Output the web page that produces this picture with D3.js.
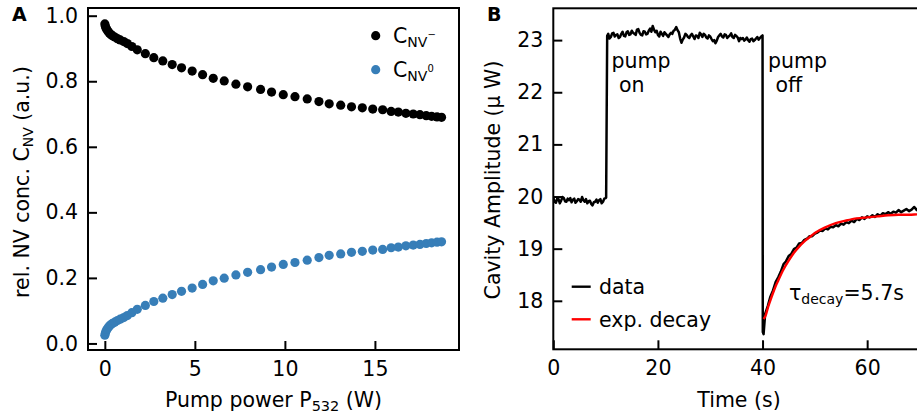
<!DOCTYPE html>
<meta charset="utf-8">
<style type="text/css">
    body{
        margin: 0;
        background: white;
    }
    svg{
        display: block;
    }
    text{
        font-family: "DejaVu Sans";
        fill: black;
    }
</style>
<body>
<script src="https://cdn.jsdelivr.net/npm/d3@7"></script>
<script>

// ---- panel A : relative NV concentrations vs pump power ----
var pumpPowerW = [0, 0.03, 0.07, 0.12, 0.18, 0.25, 0.33, 0.42, 0.55, 0.7, 0.85, 1.05, 1.25, 1.5, 1.8,
  2.25, 2.72, 3.22, 3.74, 4.26, 4.85, 5.43, 6.02, 6.63, 7.28, 7.93, 8.65, 9.26, 9.91, 10.56,
  11.24, 11.89, 12.46, 13.1, 13.7, 14.3, 14.88, 15.43, 15.9, 16.3, 16.72, 17.13, 17.5, 17.85,
  18.15, 18.45, 18.7];
var concNVminus = [0.975, 0.968, 0.962, 0.957, 0.952, 0.947, 0.943, 0.939, 0.935, 0.930, 0.926,
  0.921, 0.915, 0.906, 0.896, 0.884, 0.872, 0.862, 0.851, 0.841, 0.831, 0.820, 0.809, 0.801,
  0.791, 0.783, 0.775, 0.767, 0.759, 0.753, 0.746, 0.738, 0.731, 0.727, 0.722, 0.719, 0.715,
  0.713, 0.708, 0.706, 0.702, 0.700, 0.698, 0.695, 0.693, 0.691, 0.690];
var concNV0 = [0.025, 0.032, 0.038, 0.043, 0.048, 0.053, 0.057, 0.061, 0.065, 0.070, 0.074,
  0.079, 0.085, 0.094, 0.104, 0.116, 0.128, 0.138, 0.149, 0.159, 0.169, 0.180, 0.191, 0.199,
  0.209, 0.217, 0.225, 0.233, 0.241, 0.247, 0.254, 0.262, 0.269, 0.273, 0.278, 0.281, 0.285,
  0.287, 0.292, 0.294, 0.298, 0.300, 0.302, 0.305, 0.307, 0.309, 0.310];
var ticksA_x = [0, 5, 10, 15];
var ticksA_y = [0.0, 0.2, 0.4, 0.6, 0.8, 1.0];

// ---- panel B : cavity amplitude trace ----
var timeS = [
  0, 0.25, 0.5, 0.75, 1, 1.25, 1.5, 1.75, 2, 2.25, 2.5, 2.75, 3, 3.25, 3.5, 3.75, 4, 4.25, 4.5, 4.75,
  5, 5.25, 5.5, 5.75, 6, 6.25, 6.5, 6.75, 7, 7.25, 7.5, 7.75, 8, 8.25, 8.5, 8.75, 9, 9.25, 9.5, 9.75, 10,
  10.1, 10.3,
  10.5, 10.75, 11, 11.25, 11.5, 11.75, 12, 12.25, 12.5, 12.75, 13, 13.25, 13.5, 13.75, 14, 14.25,
  14.5, 14.75, 15, 15.25, 15.5, 15.75, 16, 16.25, 16.5, 16.75, 17, 17.25, 17.5, 17.75, 18, 18.25,
  18.5, 18.75, 19, 19.25, 19.5, 19.75, 20, 20.25, 20.5, 20.75, 21, 21.25, 21.5, 21.75, 22, 22.25,
  22.5, 22.75, 23, 23.25, 23.5, 23.75, 24, 24.25, 24.5, 24.75, 25, 25.25, 25.5, 25.75, 26, 26.25,
  26.5, 26.75, 27, 27.25, 27.5, 27.75, 28, 28.25, 28.5, 28.75, 29, 29.25, 29.5, 29.75, 30, 30.25,
  30.5, 30.75, 31, 31.25, 31.5, 31.75, 32, 32.25, 32.5, 32.75, 33, 33.25, 33.5, 33.75, 34, 34.25,
  34.5, 34.75, 35, 35.25, 35.5, 35.75, 36, 36.25, 36.5, 36.75, 37, 37.25, 37.5, 37.75, 38, 38.25,
  38.5, 38.75, 39, 39.25, 39.5, 39.75, 40,
  40.05, 40.2, 40.5,
  41, 41.5, 42, 42.5, 43, 43.5, 44, 44.5, 45, 45.5, 46, 46.5, 47, 47.5, 48, 48.5, 49, 49.5, 50, 50.5,
  51, 51.5, 52, 52.5, 53, 53.5, 54, 54.5, 55, 55.5, 56, 56.5, 57, 57.5, 58, 58.5, 59, 59.5, 60, 60.5,
  61, 61.5, 62, 62.5, 63, 63.5, 64, 64.5, 65, 65.5, 66, 66.5, 67, 67.5, 68, 68.5, 69, 69.5, 70];
var cavityUW = [
  19.98, 19.90, 19.88, 19.96, 19.95, 19.87, 19.92, 19.99, 19.97, 19.91, 19.90, 19.96, 19.93, 19.97,
  19.89, 19.94, 19.96, 19.88, 19.91, 19.95, 19.94, 19.90, 19.99, 19.93, 19.90, 19.95, 19.87, 19.91,
  19.92, 19.86, 19.83, 19.89, 19.90, 19.94, 19.88, 19.93, 19.95, 19.87, 19.90, 19.96, 19.97,
  19.98, 23.08,
  23.12, 23.03, 23.06, 23.13, 23.14, 23.07, 23.10, 23.11, 23.04, 23.06, 23.12, 23.16, 23.08, 23.07,
  23.15, 23.17, 23.10, 23.11, 23.18, 23.14, 23.12, 23.10, 23.20, 23.21, 23.14, 23.10, 23.09, 23.17,
  23.16, 23.11, 23.12, 23.18, 23.22, 23.16, 23.27, 23.20, 23.15, 23.18, 23.10, 23.07, 23.16, 23.12,
  23.08, 23.15, 23.12, 23.09, 23.06, 23.11, 23.14, 23.12, 23.18, 23.20, 23.25, 23.19, 23.15, 23.03,
  22.95, 23.01, 23.05, 23.12, 23.10, 23.06, 23.04, 23.09, 23.12, 23.07, 23.02, 23.09, 23.08, 23.04,
  23.14, 23.11, 23.06, 23.12, 23.10, 23.05, 23.03, 23.09, 23.07, 23.02, 22.98, 23.00, 22.94, 22.99,
  23.06, 23.09, 23.12, 23.07, 23.05, 23.11, 23.10, 23.04, 23.07, 23.09, 23.13, 23.06, 23.04, 23.10,
  23.08, 23.05, 22.98, 23.04, 23.02, 23.04, 22.99, 23.01, 23.05, 23.00, 22.97, 23.02, 23.03, 22.98,
  23.00, 23.03, 23.06, 23.01, 23.04, 23.07, 23.09,
  17.40, 17.36, 17.75,
  17.90, 18.08, 18.20, 18.36, 18.45, 18.56, 18.70, 18.76, 18.86, 18.90,
  18.99, 19.02, 19.10, 19.11, 19.17, 19.19, 19.24, 19.24, 19.29, 19.31,
  19.35, 19.34, 19.39, 19.37, 19.42, 19.41, 19.45, 19.43, 19.48, 19.46,
  19.51, 19.49, 19.54, 19.51, 19.57, 19.55, 19.60, 19.57, 19.62, 19.60,
  19.64, 19.61, 19.66, 19.63, 19.68, 19.66, 19.70, 19.67, 19.71, 19.69,
  19.74, 19.70, 19.73, 19.76, 19.72, 19.75, 19.80, 19.74, 19.77];
var fitT = [40.2, 40.6, 41, 41.5, 42, 42.5, 43, 44, 45, 46, 47, 48, 49, 50, 52, 54, 56, 58, 60,
  62, 64, 66, 68, 70, 72];
var fitUW = [17.65, 17.72, 17.86, 18.01, 18.15, 18.28, 18.39, 18.60, 18.77, 18.92, 19.04, 19.14,
  19.22, 19.30, 19.41, 19.49, 19.54, 19.58, 19.60, 19.62, 19.64, 19.65, 19.65, 19.66, 19.66];
var ticksB_x = [0, 20, 40, 60];
var ticksB_y = [18, 19, 20, 21, 22, 23];

var blue = "#377eb8";
var fs = 20.5;

var svg = d3.select("body")
  .append("svg")
  .attr("width", 917)
  .attr("height", 418);

//frame boxes (B runs a little past the right edge of the picture)
var boxA = {left: 88, right: 459, top: 8, bottom: 350};
var boxB = {left: 553.3, right: 924.7, top: 8.3, bottom: 349.3};

var xA = d3.scaleLinear().domain([-0.935, 19.67]).range([boxA.left, boxA.right]);
var yA = d3.scaleLinear().domain([-0.02, 1.0235]).range([boxA.bottom, boxA.top]);

var xB = d3.scaleLinear().domain([0, 71]).range([boxB.left, boxB.right]);
var yB = d3.scaleLinear().domain([17.07, 23.61]).range([boxB.bottom, boxB.top]);

function styleAxis(g){
  g.select(".domain").remove();
  g.selectAll(".tick line").attr("stroke", "black").attr("stroke-width", 2);
  g.selectAll(".tick text").attr("font-size", fs).attr("font-family", "DejaVu Sans").attr("fill", "black");
}

// axes A (ticks point inward)
svg.append("g")
  .attr("transform", "translate(0," + boxA.bottom + ")")
  .call(d3.axisBottom(xA).tickValues(ticksA_x).tickFormat(d3.format("d")).tickSizeInner(-9).tickSizeOuter(0).tickPadding(11))
  .call(styleAxis);
svg.append("g")
  .attr("transform", "translate(" + boxA.left + ",0)")
  .call(d3.axisLeft(yA).tickValues(ticksA_y).tickFormat(d3.format(".1f")).tickSizeInner(-9).tickSizeOuter(0).tickPadding(10))
  .call(styleAxis);

// axes B
svg.append("g")
  .attr("transform", "translate(0," + boxB.bottom + ")")
  .call(d3.axisBottom(xB).tickValues(ticksB_x).tickFormat(d3.format("d")).tickSizeInner(-9).tickSizeOuter(0).tickPadding(11))
  .call(styleAxis);
svg.append("g")
  .attr("transform", "translate(" + boxB.left + ",0)")
  .call(d3.axisLeft(yB).tickValues(ticksB_y).tickFormat(d3.format("d")).tickSizeInner(-9).tickSizeOuter(0).tickPadding(10))
  .call(styleAxis);

// points of panel A
var ptsMinus = pumpPowerW.map(function(p, i){ return [p, concNVminus[i]]; });
var pts0 = pumpPowerW.map(function(p, i){ return [p, concNV0[i]]; });

svg.append("g").selectAll("circle")
  .data(ptsMinus).enter().append("circle")
  .attr("cx", function(d){ return xA(d[0]); })
  .attr("cy", function(d){ return yA(d[1]); })
  .attr("r", 4.6)
  .attr("fill", "black");

svg.append("g").selectAll("circle")
  .data(pts0).enter().append("circle")
  .attr("cx", function(d){ return xA(d[0]); })
  .attr("cy", function(d){ return yA(d[1]); })
  .attr("r", 4.6)
  .attr("fill", blue);

// trace of panel B, clipped to the frame
svg.append("clipPath").attr("id", "clipB")
  .append("rect")
  .attr("x", boxB.left).attr("y", boxB.top)
  .attr("width", boxB.right - boxB.left).attr("height", boxB.bottom - boxB.top);

var plotB = svg.append("g").attr("clip-path", "url(#clipB)");

var lineB = d3.line()
  .x(function(d){ return xB(d[0]); })
  .y(function(d){ return yB(d[1]); });

plotB.append("path")
  .datum(timeS.map(function(t, i){ return [t, cavityUW[i]]; }))
  .attr("d", lineB)
  .attr("fill", "none")
  .attr("stroke", "black")
  .attr("stroke-width", 2.5)
  .attr("stroke-linejoin", "round");

plotB.append("path")
  .datum(fitT.map(function(t, i){ return [t, fitUW[i]]; }))
  .attr("d", lineB.curve(d3.curveMonotoneX))
  .attr("fill", "none")
  .attr("stroke", "#ff0000")
  .attr("stroke-width", 2.4);

// frames
svg.append("rect")
  .attr("x", boxA.left).attr("y", boxA.top)
  .attr("width", boxA.right - boxA.left).attr("height", boxA.bottom - boxA.top)
  .attr("fill", "none").attr("stroke", "black").attr("stroke-width", 2);
svg.append("rect")
  .attr("x", boxB.left).attr("y", boxB.top)
  .attr("width", boxB.right - boxB.left).attr("height", boxB.bottom - boxB.top)
  .attr("fill", "none").attr("stroke", "black").attr("stroke-width", 2);

// panel letters
svg.append("text").attr("x", 12).attr("y", 21).attr("font-size", 19).attr("font-weight", "bold").text("A");
svg.append("text").attr("x", 487).attr("y", 21).attr("font-size", 19).attr("font-weight", "bold").text("B");

// axis labels
var xlabA = svg.append("text")
  .attr("x", (boxA.left + boxA.right) / 2).attr("y", 407)
  .attr("text-anchor", "middle").attr("font-size", fs);
xlabA.append("tspan").text("Pump power P");
xlabA.append("tspan").attr("dy", 4).attr("font-size", 14.5).text("532");
xlabA.append("tspan").attr("dy", -4).text(" (W)");

var ylabA = svg.append("text")
  .attr("transform", "translate(29,182) rotate(-90)")
  .attr("text-anchor", "middle").attr("font-size", fs);
ylabA.append("tspan").text("rel. NV conc. C");
ylabA.append("tspan").attr("dy", 4).attr("font-size", 14).text("NV");
ylabA.append("tspan").attr("dy", -4).text(" (a.u.)");

svg.append("text")
  .attr("x", 739).attr("y", 407)
  .attr("text-anchor", "middle").attr("font-size", fs)
  .text("Time (s)");

svg.append("text")
  .attr("transform", "translate(500,180) rotate(-90)")
  .attr("text-anchor", "middle").attr("font-size", fs)
  .text("Cavity Amplitude (\u03bc W)");

// legend A
var legA = [{label: "\u2212", color: "black", y: 35.7}, {label: "0", color: blue, y: 69.7}];
legA.forEach(function(l){
  svg.append("circle").attr("cx", 375.7).attr("cy", l.y).attr("r", 4.6).attr("fill", l.color);
  var t = svg.append("text").attr("x", 393).attr("y", l.y + 7.5).attr("font-size", fs);
  t.append("tspan").text("C");
  t.append("tspan").attr("dy", 4).attr("font-size", 14).text("NV");
  t.append("tspan").attr("dy", -9).attr("font-size", 10).text(l.label);
});

// legend B
var legB = [{label: "data", color: "black", y: 286.7}, {label: "exp. decay", color: "#ff0000", y: 319.3}];
legB.forEach(function(l){
  svg.append("line")
    .attr("x1", 571.7).attr("x2", 590.7).attr("y1", l.y).attr("y2", l.y)
    .attr("stroke", l.color).attr("stroke-width", 2.4);
  svg.append("text").attr("x", 599).attr("y", l.y + 7.5).attr("font-size", fs).text(l.label);
});

// annotations B
svg.append("text").attr("x", 611.5).attr("y", 68).attr("font-size", fs).text("pump");
svg.append("text").attr("x", 619).attr("y", 92).attr("font-size", fs).text("on");
svg.append("text").attr("x", 768).attr("y", 68).attr("font-size", fs).text("pump");
svg.append("text").attr("x", 775.5).attr("y", 92).attr("font-size", fs).text("off");

var tau = svg.append("text").attr("x", 789).attr("y", 300).attr("font-size", fs);
tau.append("tspan").text("\u03c4");
tau.append("tspan").attr("dy", 4).attr("font-size", 14).text("decay");
tau.append("tspan").attr("dy", -4).text("=5.7s");

</script>
</body>
